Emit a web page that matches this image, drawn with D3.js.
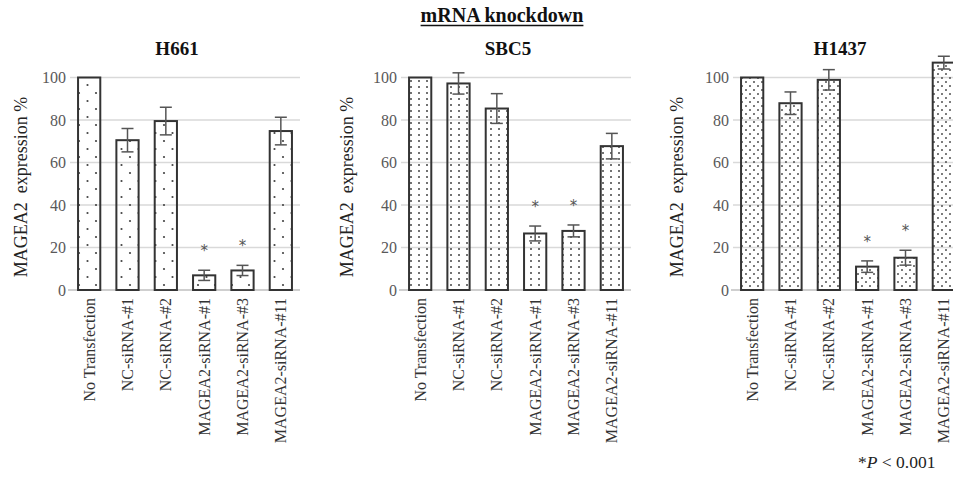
<!DOCTYPE html>
<html>
<head>
<meta charset="utf-8">
<script src="https://cdn.jsdelivr.net/npm/d3@7/dist/d3.min.js"></script>
<style>
  html, body { margin: 0; padding: 0; background: #fff; }
  svg { display: block; }
  text { font-family: "Liberation Serif", "Times New Roman", serif; }
</style>
</head>
<body>
<svg id="chart" width="953" height="477"></svg>
<script>
// ---- Data ----
const categories = ["No Transfection", "NC-siRNA-#1", "NC-siRNA-#2", "MAGEA2-siRNA-#1", "MAGEA2-siRNA-#3", "MAGEA2-siRNA-#11"];
const panelNames = ["H661", "SBC5", "H1437"];
const h661Values = [100, 70.5, 79.5, 6.9, 9.2, 74.8];
const h661Errors = [0, 5.5, 6.5, 2.4, 2.4, 6.5];
const sbc5Values = [100, 97.2, 85.4, 26.6, 27.8, 67.7];
const sbc5Errors = [0, 5.0, 7.0, 3.5, 2.8, 6.0];
const h1437Values = [100, 87.9, 98.9, 11.0, 15.2, 107.0];
const h1437Errors = [0, 5.3, 4.8, 2.7, 3.5, 3.0];
const significant = [false, false, false, true, true, false];
const yTicks = [0, 20, 40, 60, 80, 100];
const mainTitle = "mRNA knockdown";
const yAxisTitle = "MAGEA2  expression %";

const seriesValues = [h661Values, sbc5Values, h1437Values];
const seriesErrors = [h661Errors, sbc5Errors, h1437Errors];

// ---- Layout ----
const svg = d3.select("#chart");
const panelX0 = [70, 401, 733];
const plotW = 230;
const yTop = 77.5, yBottom = 290;
const y = d3.scaleLinear().domain([0, 100]).range([yBottom, yTop]);

// patterns
const defs = svg.append("defs");
const p1 = defs.append("pattern").attr("id", "pat0").attr("patternUnits", "userSpaceOnUse")
  .attr("width", 17).attr("height", 16);
p1.append("circle").attr("cx", 11).attr("cy", 13).attr("r", 1.1).attr("fill", "#444");
p1.append("circle").attr("cx", 2.5).attr("cy", 5).attr("r", 1.1).attr("fill", "#444");
const p2 = defs.append("pattern").attr("id", "pat1").attr("patternUnits", "userSpaceOnUse")
  .attr("width", 8).attr("height", 6);
p2.append("circle").attr("cx", 3).attr("cy", 3).attr("r", 1.0).attr("fill", "#444");
const p3 = defs.append("pattern").attr("id", "pat2").attr("patternUnits", "userSpaceOnUse")
  .attr("width", 8).attr("height", 8);
p3.append("circle").attr("cx", 2).attr("cy", 2).attr("r", 0.95).attr("fill", "#444");
p3.append("circle").attr("cx", 6).attr("cy", 6).attr("r", 0.95).attr("fill", "#444");

// main title
const mt = svg.append("text").attr("x", 502).attr("y", 22).attr("text-anchor", "middle")
  .attr("font-size", 20).attr("font-weight", "bold").attr("fill", "#111").text(mainTitle);
const bb = mt.node().getBBox();
svg.append("line").attr("x1", bb.x).attr("x2", bb.x + bb.width).attr("y1", 25.5).attr("y2", 25.5)
  .attr("stroke", "#111").attr("stroke-width", 1.5);

const yLabelX = [21, 347, 677];

panelNames.forEach((name, pi) => {
  const x0 = panelX0[pi];
  const x = d3.scaleBand().domain(categories).range([x0, x0 + plotW])
    .paddingInner(0.42).paddingOuter(0.21);
  const g = svg.append("g");

  // gridlines
  g.selectAll("line.grid").data(yTicks.filter(d => d > 0)).join("line")
    .attr("x1", x0).attr("x2", x0 + plotW)
    .attr("y1", d => y(d)).attr("y2", d => y(d))
    .attr("stroke", "#d9d9d9").attr("stroke-width", 1.5);
  // baseline
  g.append("line").attr("x1", x0 - 2).attr("x2", x0 + plotW)
    .attr("y1", y(0)).attr("y2", y(0)).attr("stroke", "#bfbfbf").attr("stroke-width", 1.5);

  // y tick labels
  g.selectAll("text.tick").data(yTicks).join("text")
    .attr("x", x0 - 4).attr("y", d => y(d)).attr("dy", "0.35em")
    .attr("text-anchor", "end").attr("font-size", 16).attr("fill", "#595959")
    .text(d => d);

  // y axis title
  g.append("text").attr("transform", `translate(${yLabelX[pi]},187) rotate(-90)`)
    .attr("text-anchor", "middle").attr("dy", "0.35em").attr("font-size", 18)
    .attr("fill", "#222").style("white-space", "pre").text(yAxisTitle);

  // panel title
  g.append("text").attr("x", x0 + plotW / 2 - 8).attr("y", 55).attr("text-anchor", "middle")
    .attr("font-size", 19).attr("font-weight", "bold").attr("fill", "#111").text(name);

  const vals = seriesValues[pi], errs = seriesErrors[pi];
  const data = categories.map((c, i) => ({ c, v: vals[i], e: errs[i], s: significant[i] }));

  // bars
  g.selectAll("rect.bar").data(data).join("rect")
    .attr("x", d => x(d.c)).attr("width", x.bandwidth())
    .attr("y", d => y(d.v)).attr("height", d => y(0) - y(d.v))
    .attr("fill", `url(#pat${pi})`).attr("stroke", "#333").attr("stroke-width", 2);

  // error bars
  const eb = data.filter(d => d.e > 0);
  const cap = 6;
  g.selectAll("line.err").data(eb).join("line")
    .attr("x1", d => x(d.c) + x.bandwidth() / 2).attr("x2", d => x(d.c) + x.bandwidth() / 2)
    .attr("y1", d => y(d.v + d.e)).attr("y2", d => y(d.v - d.e))
    .attr("stroke", "#555").attr("stroke-width", 1.5);
  g.selectAll("line.capt").data(eb).join("line")
    .attr("x1", d => x(d.c) + x.bandwidth() / 2 - cap).attr("x2", d => x(d.c) + x.bandwidth() / 2 + cap)
    .attr("y1", d => y(d.v + d.e)).attr("y2", d => y(d.v + d.e))
    .attr("stroke", "#555").attr("stroke-width", 1.5);
  g.selectAll("line.capb").data(eb).join("line")
    .attr("x1", d => x(d.c) + x.bandwidth() / 2 - cap).attr("x2", d => x(d.c) + x.bandwidth() / 2 + cap)
    .attr("y1", d => y(d.v - d.e)).attr("y2", d => y(d.v - d.e))
    .attr("stroke", "#555").attr("stroke-width", 1.5);

  // significance stars
  g.selectAll("text.star").data(data.filter(d => d.s)).join("text")
    .attr("x", d => x(d.c) + x.bandwidth() / 2).attr("y", d => y(d.v + d.e) - 14)
    .attr("text-anchor", "middle").attr("font-size", 15).attr("fill", "#555")
    .style("font-family", "'DejaVu Sans', sans-serif").text("*");

  // category labels
  g.selectAll("text.cat").data(categories).join("text")
    .attr("transform", d => `translate(${x(d) + x.bandwidth() / 2},298) rotate(-90)`)
    .attr("text-anchor", "end").attr("dy", "0.35em").attr("font-size", 16).attr("fill", "#333")
    .text(d => d);
});

// p-value note
const note = svg.append("text").attr("x", 858).attr("y", 468).attr("font-size", 17.5).attr("fill", "#222");
note.append("tspan").text("*");
note.append("tspan").attr("font-style", "italic").text("P");
note.append("tspan").text(" < 0.001");
</script>
</body>
</html>
